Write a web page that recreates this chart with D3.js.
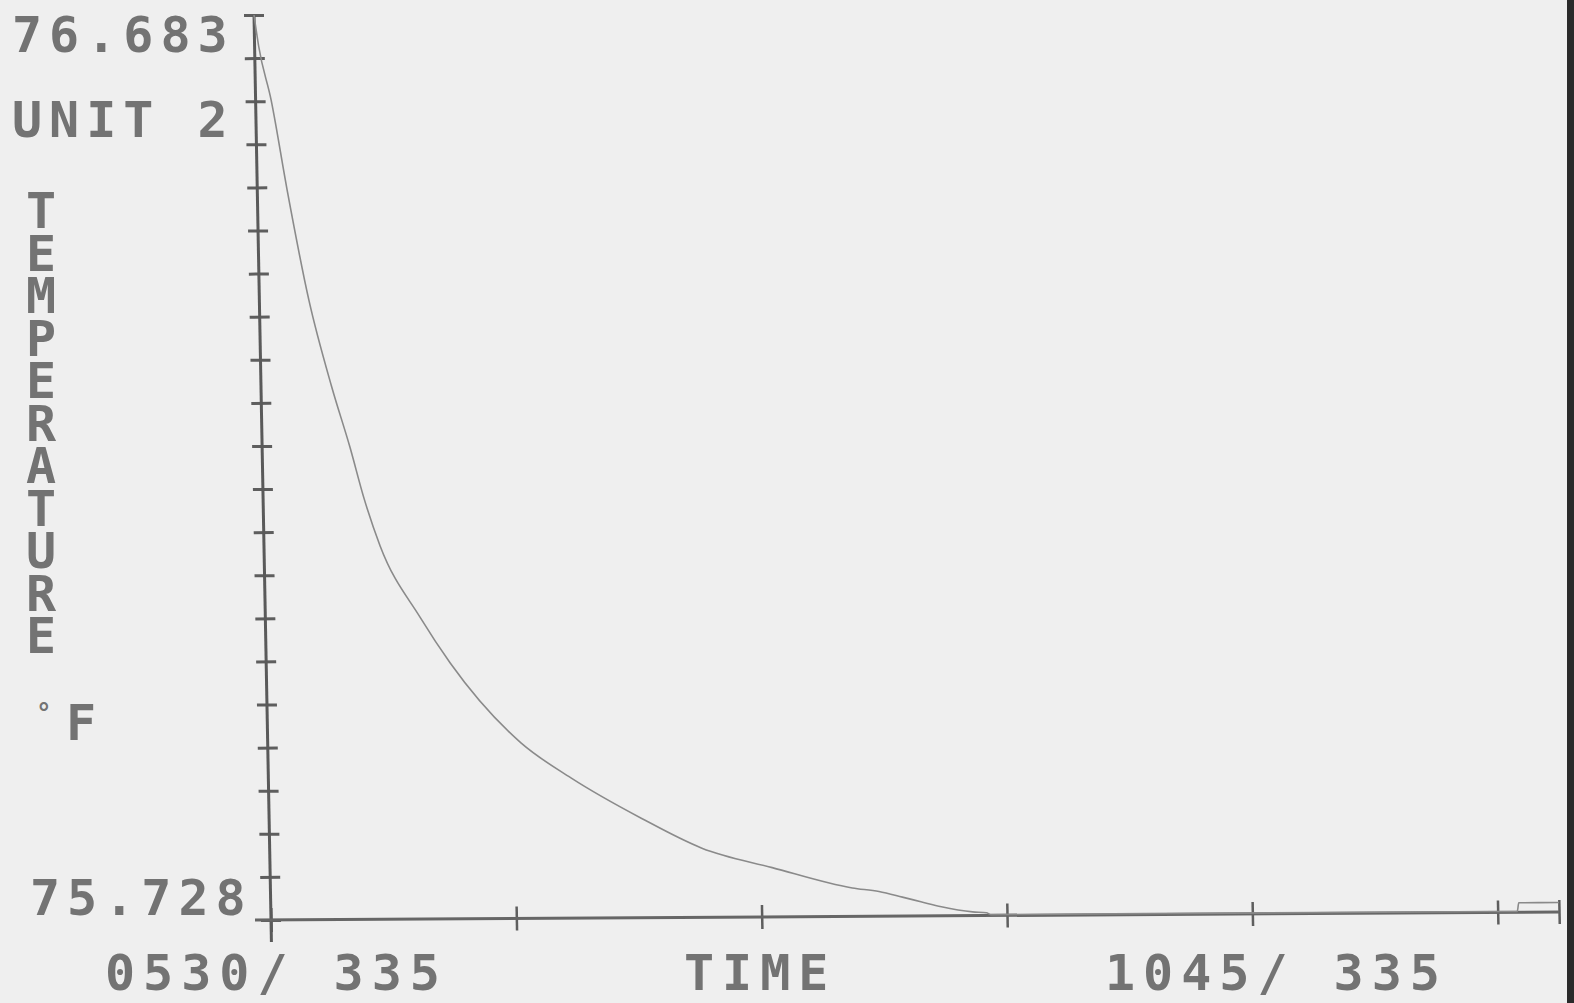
<!DOCTYPE html>
<html>
<head>
  <meta charset="utf-8">
  <style>
    html, body { margin: 0; padding: 0; background: #efefef; }
    svg { display: block; }
    .lbl { font-family: "DejaVu Sans Mono", monospace; font-weight: bold; font-size: 50px; fill: #737373; letter-spacing: 7px; }
  </style>
</head>
<body>
  <div id="chart"></div>
  <script src="https://d3js.org/d3.v7.min.js"></script>
  <script>
    // minutes after 0530, day 335
    var minutes = [0, 1, 3.8, 7.3, 12.1, 17.3, 21.5, 24.7, 28.4, 37.9, 45, 62, 74, 91, 105.7, 122.8, 142.3, 148.8, 154.5, 159, 164, 171.6, 175, 176, 290, 304.8, 305.2, 315]
    var temps = [76.683, 76.65, 76.593, 76.498, 76.382, 76.290, 76.226, 76.172, 76.122, 76.046, 75.998, 75.913, 75.876, 75.833, 75.801, 75.780, 75.758, 75.754, 75.748, 75.743, 75.7375, 75.732, 75.731, 75.729, 75.729, 75.729, 75.738, 75.738]

    var yMin = 75.728, yMax = 76.683
    var yTickCount = 21
    var xTicks = [0, 60, 120, 180, 240, 300, 315]
    var xLabels = ["0530/ 335", "TIME", "1045/ 335"]

    var W = 1574, H = 1003
    var plotW = 1288, plotH = 905

    var svg = d3.select("#chart").append("svg")
        .attr("width", W)
        .attr("height", H)

    svg.append("rect").attr("width", W).attr("height", H).attr("fill", "#efefef")
    // dark edge of the photographed screen
    svg.append("rect").attr("x", 1567).attr("y", 0).attr("width", 7).attr("height", H).attr("fill", "#2a2a2a")

    var x = d3.scaleLinear().domain([0, 315]).range([0, plotW])
    var y = d3.scaleLinear().domain([yMin, yMax]).range([plotH, 0])

    // the photo is slightly skewed
    var g = svg.append("g")
        .attr("transform", "matrix(1,-0.0062,0.0188,1,254,15)")

    var yTicks = d3.range(yTickCount + 1).map(i => yMin + i * (yMax - yMin) / yTickCount)

    var yAxis = g.append("g")
        .call(d3.axisLeft(y).tickValues(yTicks).tickSize(10).tickSizeOuter(0).tickFormat(""))
    yAxis.select(".domain").remove()
    yAxis.selectAll("line").attr("x1", 10).attr("stroke", "#5e5e5e").attr("stroke-width", 3)

    var xAxis = g.append("g")
        .attr("transform", "translate(0," + plotH + ")")
        .call(d3.axisBottom(x).tickValues(xTicks).tickSize(12).tickSizeOuter(0).tickFormat(""))
    xAxis.select(".domain").remove()
    xAxis.selectAll("line").attr("y1", -12).attr("stroke", "#5e5e5e").attr("stroke-width", 2.5)

    g.append("line")
        .attr("x1", x(0)).attr("x2", x(0))
        .attr("y1", y(yMax)).attr("y2", y(yMin) + 22)
        .attr("stroke", "#5a5a5a").attr("stroke-width", 3)
    g.append("line")
        .attr("x1", x(0) - 16).attr("x2", x(315))
        .attr("y1", y(yMin)).attr("y2", y(yMin))
        .attr("stroke", "#666").attr("stroke-width", 3)

    var pts = minutes.map((m, i) => [m, temps[i]])
    g.append("path")
        .datum(pts)
        .attr("fill", "none")
        .attr("stroke", "#8a8a8a")
        .attr("stroke-width", 1.6)
        .attr("d", d3.line().curve(d3.curveMonotoneX).x(d => x(d[0])).y(d => y(d[1])))

    // labels
    svg.append("text").attr("class", "lbl").attr("x", 12).attr("y", 52).text(yMax.toFixed(3))
    svg.append("text").attr("class", "lbl").attr("x", 12).attr("y", 137).text("UNIT 2")
    svg.append("text").attr("class", "lbl").attr("x", 30).attr("y", 915).text(yMin.toFixed(3))

    var word = "TEMPERATURE".split("")
    svg.append("g").selectAll("text")
        .data(word)
        .enter().append("text")
        .attr("class", "lbl")
        .attr("x", 26)
        .attr("y", (d, i) => 228 + i * 42.5)
        .text(d => d)

    svg.append("text").attr("class", "lbl").attr("x", 36).attr("y", 722).style("font-size", "26px").text("°")
    svg.append("text").attr("class", "lbl").attr("x", 66).attr("y", 740).text("F")

    svg.selectAll("text.xl")
        .data(xLabels)
        .enter().append("text")
        .attr("class", "lbl xl")
        .attr("x", (d, i) => [105, 684, 1105][i])
        .attr("y", 990)
        .style("letter-spacing", "8px")
        .text(d => d)
  </script>
</body>
</html>
